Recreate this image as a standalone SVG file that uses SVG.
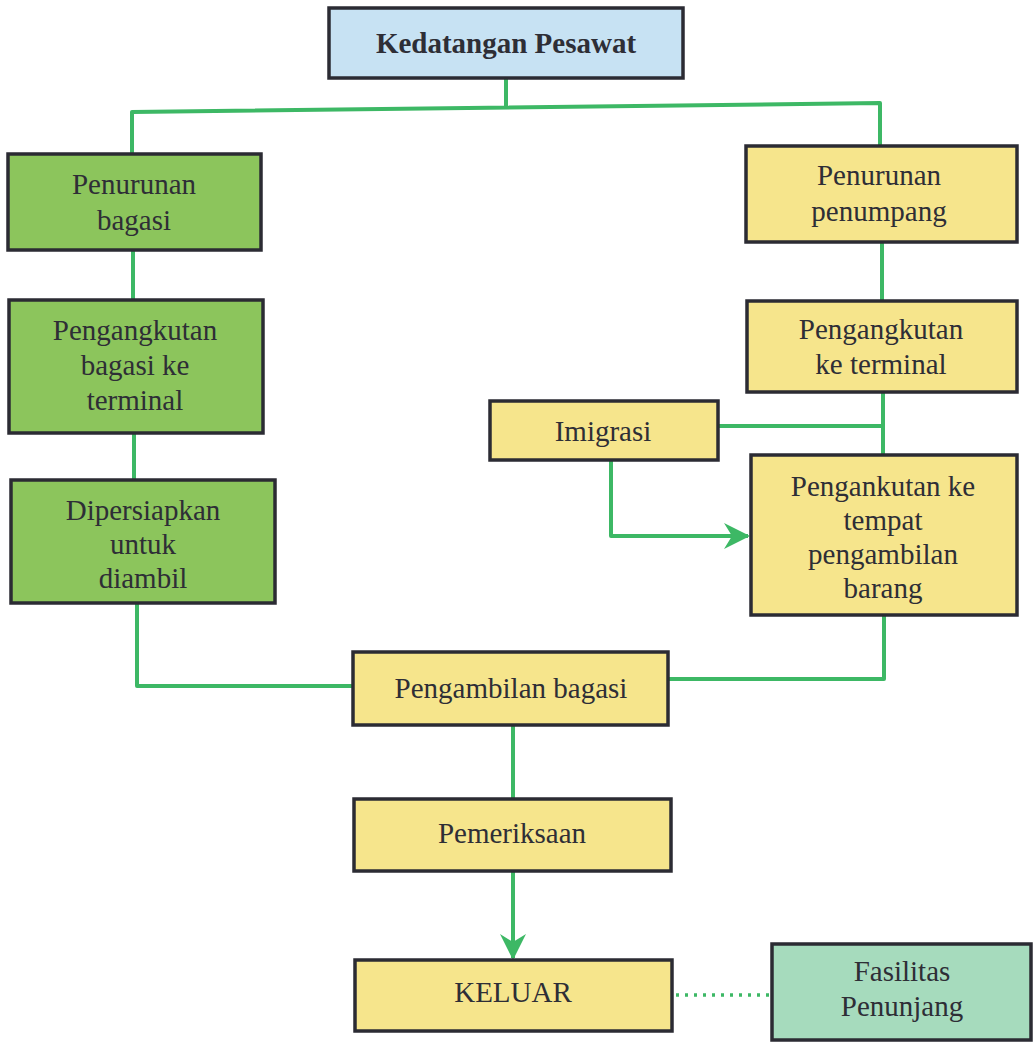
<svg xmlns="http://www.w3.org/2000/svg" width="1033" height="1042" viewBox="0 0 1033 1042">
  <style>
    .box { stroke: #2b2b33; stroke-width: 3.5; }
    .blue { fill: #c7e2f3; }
    .green { fill: #8cc55c; }
    .yellow { fill: #f6e58c; }
    .mint { fill: #a6dbbd; }
    .lbl { font-family: 'Liberation Serif', 'DejaVu Serif', serif; font-size: 29px; fill: #2e2e36; text-anchor: middle; }
    .title { font-weight: bold; font-size: 29px; }
    .link { fill: none; stroke: #3db865; stroke-width: 4; stroke-linejoin: round; }
    .dots { fill: none; stroke: #3db865; stroke-width: 3.5; stroke-dasharray: 3 6; }
  </style>
  <defs>
    <marker id="arrow" viewBox="0 0 26 26" refX="24" refY="13" markerWidth="26" markerHeight="26" markerUnits="userSpaceOnUse" orient="auto">
      <path d="M0,0 L26,13 L0,26 L8,13 Z" fill="#3db865"/>
    </marker>
  </defs>

  <rect width="1033" height="1042" fill="#ffffff"/>

  <g id="connectors">
    <path class="link" d="M506,78 V107"/>
    <path class="link" d="M132,153 V112 L880,103 V146"/>
    <path class="link" d="M133,250 V299"/>
    <path class="link" d="M134,433 V479"/>
    <path class="link" d="M137,603 V686 H352"/>
    <path class="link" d="M882,242 V300"/>
    <path class="link" d="M883,392 V454"/>
    <path class="link" d="M718,426 H883"/>
    <path class="link" d="M611,460 V536 H748" marker-end="url(#arrow)"/>
    <path class="link" d="M884,615 V679 H668"/>
    <path class="link" d="M513,725 V798"/>
    <path class="link" d="M513,871 V958" marker-end="url(#arrow)"/>
    <path class="dots" d="M676,995 H771"/>
  </g>

  <g id="kedatangan">
    <rect class="box blue" x="329" y="8" width="354" height="70"/>
    <text class="lbl title" x="506" y="53">Kedatangan Pesawat</text>
  </g>

  <g id="penurunan-bagasi">
    <rect class="box green" x="8" y="154" width="253" height="96"/>
    <text class="lbl" x="134" y="194">Penurunan</text>
    <text class="lbl" x="134" y="230">bagasi</text>
  </g>

  <g id="pengangkutan-bagasi">
    <rect class="box green" x="9" y="300" width="254" height="133"/>
    <text class="lbl" x="135" y="340">Pengangkutan</text>
    <text class="lbl" x="135" y="375">bagasi ke</text>
    <text class="lbl" x="135" y="410">terminal</text>
  </g>

  <g id="dipersiapkan">
    <rect class="box green" x="11" y="480" width="264" height="123"/>
    <text class="lbl" x="143" y="520">Dipersiapkan</text>
    <text class="lbl" x="143" y="554">untuk</text>
    <text class="lbl" x="143" y="588">diambil</text>
  </g>

  <g id="penurunan-penumpang">
    <rect class="box yellow" x="746" y="146" width="271" height="96"/>
    <text class="lbl" x="879" y="185">Penurunan</text>
    <text class="lbl" x="879" y="221">penumpang</text>
  </g>

  <g id="pengangkutan-terminal">
    <rect class="box yellow" x="747" y="301" width="270" height="91"/>
    <text class="lbl" x="881" y="339">Pengangkutan</text>
    <text class="lbl" x="881" y="374">ke terminal</text>
  </g>

  <g id="imigrasi">
    <rect class="box yellow" x="490" y="401" width="228" height="59"/>
    <text class="lbl" x="603" y="441">Imigrasi</text>
  </g>

  <g id="pengangkutan-tempat">
    <rect class="box yellow" x="751" y="455" width="266" height="160"/>
    <text class="lbl" x="883" y="496">Pengankutan ke</text>
    <text class="lbl" x="883" y="530">tempat</text>
    <text class="lbl" x="883" y="564">pengambilan</text>
    <text class="lbl" x="883" y="598">barang</text>
  </g>

  <g id="pengambilan-bagasi">
    <rect class="box yellow" x="353" y="652" width="315" height="73"/>
    <text class="lbl" x="511" y="698">Pengambilan bagasi</text>
  </g>

  <g id="pemeriksaan">
    <rect class="box yellow" x="354" y="799" width="317" height="72"/>
    <text class="lbl" x="512" y="843">Pemeriksaan</text>
  </g>

  <g id="keluar">
    <rect class="box yellow" x="355" y="960" width="317" height="71"/>
    <text class="lbl" x="513" y="1002">KELUAR</text>
  </g>

  <g id="fasilitas">
    <rect class="box mint" x="772" y="944" width="259" height="96"/>
    <text class="lbl" x="902" y="981">Fasilitas</text>
    <text class="lbl" x="902" y="1016">Penunjang</text>
  </g>
</svg>
